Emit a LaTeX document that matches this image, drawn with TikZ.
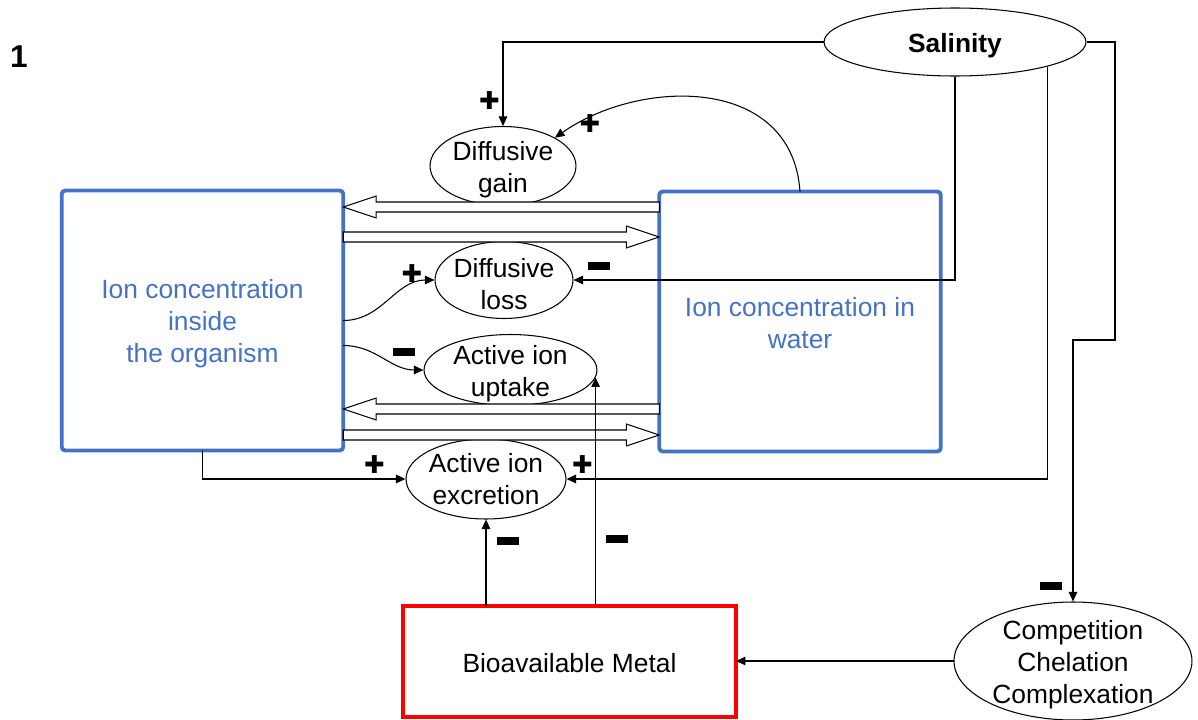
\documentclass[tikz,border=0pt]{standalone}
\usepackage{fontspec}
\setmainfont{Liberation Sans}
\newfontfamily\signfont{DejaVu Sans}
\usepackage{xcolor}
\usepackage{tikz}
\usetikzlibrary{shapes.geometric, arrows.meta, calc}
\usetikzlibrary{positioning}

\definecolor{boxblue}{HTML}{4472C4}

% pushes the text of a node a little down
\newcommand{\lowstrut}[1][15pt]{\rule{0pt}{#1}}

% open block arrow between two points on the same height
\newcommand{\hollowarrow}[2]{%
  \draw[hollow] let \p1=(#1), \p2=(#2), \p3=($(#2)!0.66cm!(#1)$) in
    (\x1,\y1+0.1cm) -- (\x3,\y1+0.1cm) -- (\x3,\y1+0.22cm) -- (\x2,\y2)
    -- (\x3,\y1-0.22cm) -- (\x3,\y1-0.1cm) -- (\x1,\y1-0.1cm) -- cycle;}

\begin{document}
\begin{tikzpicture}[x=0.02cm, y=-0.02cm, every node/.style={font=\fontsize{15}{18.2}\selectfont}]
\tikzstyle{bluebox} = [rectangle, rounded corners=2pt, minimum width=5.63cm, minimum height=5.2cm, outer sep=0pt, draw=boxblue, line width=2.2pt, text=boxblue, align=center]
\tikzstyle{metalbox} = [rectangle, minimum width=6.66cm, minimum height=2.22cm, outer sep=0pt, draw=red, line width=2.2pt]
\tikzstyle{bubble} = [ellipse, draw=black, line width=0.6pt, inner sep=-0.25cm, align=center]
\tikzstyle{arrow} = [line width=0.6pt, ->, >={Triangle[length=1.9mm, width=1.7mm]}]
\tikzstyle{hollow} = [draw=black, line width=0.6pt, fill=white]
\tikzstyle{plus} = [inner sep=0pt, font=\signfont\fontsize{14}{14}\selectfont]
\tikzstyle{minus} = [rectangle, fill=black, inner sep=0pt, minimum width=0.44cm, minimum height=0.16cm]

\useasboundingbox (0,0) rectangle (1198,720);

% Nodes
\node (num) at (19,57) {\fontsize{18}{18}\selectfont\bfseries 1};
\node (org) [bluebox] at (202.5,320.5) {\lowstrut Ion concentration\\inside\\the organism};
\node (water) [bluebox] at (800,321.5) {\lowstrut[13pt]Ion concentration in\\water};
\node (metal) [metalbox] at (569.5,661.5) {\lowstrut[13pt]Bioavailable Metal};
\node (sal) [bubble, minimum width=5.24cm, minimum height=1.36cm] at (955,42) {\lowstrut[14.5pt]\bfseries Salinity};
\node (gain) [bubble, minimum width=2.92cm, minimum height=1.58cm] at (503,166) {\lowstrut Diffusive\\gain};
\node (loss) [bubble, minimum width=2.76cm, minimum height=1.54cm] at (504,280) {\lowstrut Diffusive\\loss};
\node (upt) [bubble, minimum width=3.46cm, minimum height=1.42cm] at (510.5,370) {\lowstrut Active ion\\uptake};
\node (excr) [bubble, minimum width=3.2cm, minimum height=1.6cm] at (486,479) {Active ion\\excretion};
\node (comp) [bubble, minimum width=4.76cm, minimum height=2.36cm] at (1073,661) {\lowstrut Competition\\Chelation\\Complexation};
\coordinate (bend) at (1115,340);

% Exchange between organism and water
\coordinate (a1s) at (water.west |- 0,207);
\coordinate (a1e) at (org.east |- 0,207);
\coordinate (a2s) at (org.east |- 0,237);
\coordinate (a2e) at (water.west |- 0,237);
\coordinate (a3s) at (water.west |- 0,409);
\coordinate (a3e) at (org.east |- 0,409);
\coordinate (a4s) at (org.east |- 0,435);
\coordinate (a4e) at (water.west |- 0,435);
\hollowarrow{a1s}{a1e}
\hollowarrow{a2s}{a2e}
\hollowarrow{a3s}{a3e}
\hollowarrow{a4s}{a4e}

% Arrows
\draw [arrow] (sal.west) -| (gain.north);
\draw [arrow] (water.north) .. controls (792,75) and (640,78) .. (gain.north east);
\draw [arrow] (sal.south) |- (loss.east);
\draw [arrow] (sal.-15) |- (excr.east);
\draw [arrow] (sal.east) -| (bend) -| (comp.north);
\draw [arrow] (comp.west) -- (comp.west -| metal.east);
\draw [arrow] (excr.south |- metal.north) -- (excr.south);
\draw [arrow] (upt.-5 |- metal.north) -- (upt.-5);
\draw [arrow] (org.south) |- (excr.west);
\draw [arrow] (org.east) to[out=0, in=180] (loss.west);
\draw [arrow] ([yshift=-0.5cm]org.east) to[out=0, in=180] (upt.west);

% Signs
\node (p1) [plus] at (489.5,100.5) {✚};
\node (p2) [plus] at (590,123.5) {✚};
\node (p3) [plus] at (412,273.5) {✚};
\node (p4) [plus] at (374.5,464.5) {✚};
\node (p5) [plus] at (582.5,464.5) {✚};
\node (m1) [minus] at (599,266) {};
\node (m2) [minus] at (404,352) {};
\node (m3) [minus] at (508,541) {};
\node (m4) [minus] at (616.5,539) {};
\node (m5) [minus] at (1051,585.5) {};

\end{tikzpicture}
\end{document}
